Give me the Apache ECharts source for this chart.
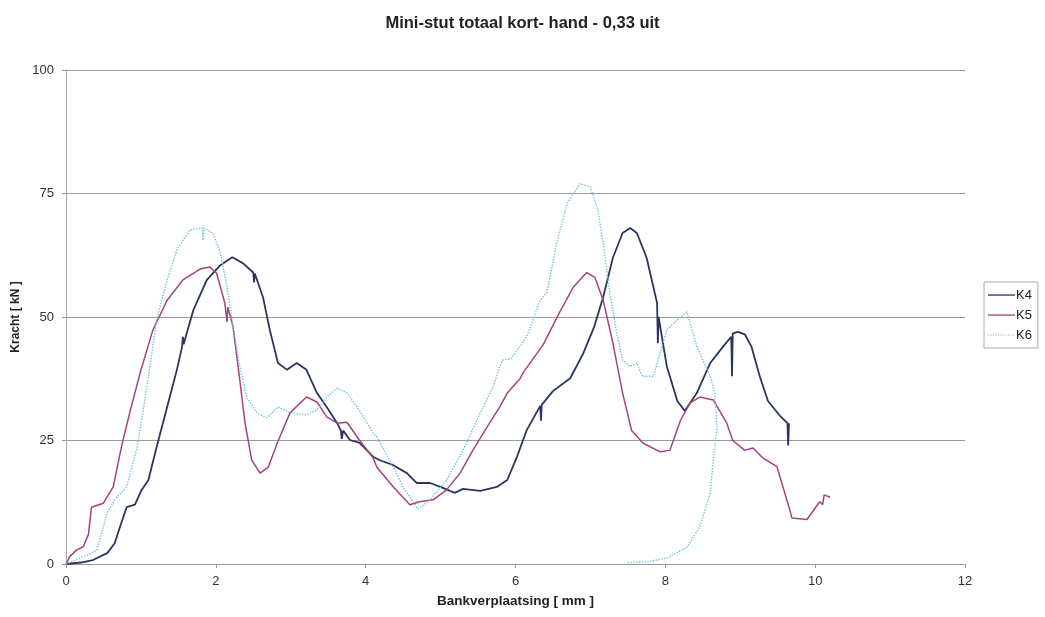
<!DOCTYPE html>
<html><head><meta charset="utf-8">
<script src="https://cdn.jsdelivr.net/npm/echarts@6/dist/echarts.min.js"></script>
<style>html,body{margin:0;padding:0;background:#fff}#c{width:1045px;height:617px}</style>
</head><body><div id="c"></div>
<script>
const chartTitle = 'Mini-stut totaal kort- hand - 0,33 uit';
const xAxisTitle = 'Bankverplaatsing [ mm ]';
const yAxisTitle = 'Kracht [ kN ]';
const seriesNames = ['K4', 'K5', 'K6'];

const k4Points = [[0,0],[0.2,0.3],[0.36,0.8],[0.55,2.2],[0.65,4.2],[0.72,7.5],[0.81,11.5],[0.92,12],[1.01,15],[1.1,17],[1.21,23.7],[1.35,31.8],[1.48,39.3],[1.55,44],[1.56,46],[1.57,44.5],[1.7,51.4],[1.88,57.5],[2.06,60.5],[2.22,62.1],[2.36,60.9],[2.5,59],[2.51,57],[2.52,58.8],[2.63,54],[2.72,47.4],[2.83,40.7],[2.95,39.3],[3.08,40.7],[3.21,39.3],[3.35,34.6],[3.48,31.8],[3.62,28.5],[3.67,27],[3.68,25.3],[3.7,27],[3.79,25.1],[3.92,24.5],[4.1,21.7],[4.19,21],[4.37,20],[4.55,18.4],[4.68,16.4],[4.86,16.4],[5.03,15.4],[5.19,14.4],[5.3,15.2],[5.53,14.8],[5.75,15.6],[5.89,17],[6.02,21.7],[6.15,27.1],[6.33,32],[6.34,29],[6.35,32.2],[6.5,35],[6.73,37.6],[6.9,42.5],[7.05,48],[7.17,54],[7.3,62],[7.43,67],[7.53,68],[7.62,67],[7.75,62],[7.89,52.8],[7.9,44.7],[7.91,50],[8.02,40],[8.16,33],[8.26,31],[8.42,34.6],[8.6,40.7],[8.77,44],[8.88,46],[8.89,38],[8.9,46.7],[8.97,47],[9.06,46.5],[9.15,44],[9.26,38],[9.37,33],[9.53,30],[9.63,28.5],[9.64,24],[9.65,28.5]];

const k5Points = [[0,0],[0.05,1.5],[0.14,2.8],[0.23,3.5],[0.3,6],[0.34,11.5],[0.5,12.3],[0.63,15.6],[0.74,23.7],[0.85,30.6],[0.99,38.7],[1.16,47.4],[1.35,53.4],[1.56,57.5],[1.79,59.7],[1.92,60.1],[2.01,58.9],[2.12,52.8],[2.15,49],[2.16,52],[2.23,48],[2.32,37.2],[2.39,28.5],[2.48,21],[2.59,18.4],[2.7,19.6],[2.82,24.5],[2.99,30.6],[3.21,33.8],[3.35,32.8],[3.48,29.8],[3.62,28.5],[3.75,28.7],[3.92,25],[4.1,21.5],[4.15,19.6],[4.37,15.6],[4.59,12],[4.72,12.6],[4.9,13],[5.08,15],[5.26,18.4],[5.43,23],[5.62,27.7],[5.79,31.8],[5.89,34.6],[6.06,37.5],[6.1,38.7],[6.37,44.4],[6.59,51],[6.77,56],[6.95,59],[7.06,58],[7.17,53.4],[7.3,44.7],[7.43,34.6],[7.55,27],[7.7,24.5],[7.93,22.7],[8.06,23],[8.2,29],[8.33,32.6],[8.46,33.8],[8.64,33.2],[8.82,28.5],[8.9,25],[9.06,23],[9.17,23.5],[9.3,21.5],[9.49,19.7],[9.57,15.6],[9.66,11],[9.69,9.3],[9.89,9],[10.06,12.6],[10.1,12],[10.12,14],[10.2,13.5]];

const k6Points = [[0,0],[0.28,1.8],[0.41,2.8],[0.55,10.3],[0.65,13],[0.81,15.6],[0.95,23.7],[1.08,35.8],[1.21,49.4],[1.35,57.5],[1.48,63.6],[1.65,67.6],[1.82,68],[1.83,65.5],[1.84,68],[1.96,67],[2.06,63],[2.15,56],[2.23,48],[2.32,40],[2.41,33.8],[2.55,30.6],[2.68,29.6],[2.83,31.8],[2.99,30.6],[3.21,30.2],[3.35,31.2],[3.48,33.8],[3.62,35.6],[3.75,34.6],[3.92,31],[4.1,26.5],[4.15,25.7],[4.37,19.6],[4.5,15.6],[4.7,11.1],[4.86,13],[5.08,17],[5.3,23],[5.53,30.6],[5.7,35.8],[5.79,40],[5.83,41.3],[5.93,41.5],[6.06,44],[6.15,46],[6.33,53.4],[6.42,55],[6.55,65],[6.69,73],[6.86,77],[7.0,76.3],[7.1,71.6],[7.17,65],[7.26,54.8],[7.35,46.8],[7.43,41.3],[7.53,40],[7.62,40.7],[7.69,38],[7.84,38],[7.93,42.7],[8.02,47.4],[8.16,49.4],[8.29,51],[8.42,44],[8.6,38],[8.66,34.6],[8.69,27.7],[8.64,21],[8.6,14.4],[8.46,7.5],[8.29,3.4],[8.02,1.2],[7.75,0.4],[7.49,0.3]];

const xTicks = {min: 0, max: 12, interval: 2};
const yTicks = {min: 0, max: 100, interval: 25};

const colors = ['#2b3463', '#a4437f', '#6fc2d6'];
const font = '"Liberation Sans", Arial, sans-serif';

// legend icons: thin horizontal line (solid) and dotted line, in a 27x14 box
const IW = 27, IH = 14;
const boxPts = 'M0,0L0,0M' + IW + ',' + IH + 'L' + IW + ',' + IH;
const solidIcon = 'path://' + boxPts + 'M0,6.4h' + IW + 'v1.3h-' + IW + 'z';
let dots = '';
for (let i = 0; i < IW; i += 2.5) dots += 'M' + i + ',6.5h1.2v1h-1.2z';
const dottedIcon = 'path://' + boxPts + dots;

const chart = echarts.init(document.getElementById('c'), null, {renderer: 'canvas'});
chart.setOption({
  animation: false,
  backgroundColor: '#ffffff',
  title: {
    text: chartTitle, left: 'center', top: 10,
    textStyle: {fontFamily: font, fontSize: 16.5, fontWeight: 'bold', color: '#222'}
  },
  grid: {left: 66, right: 80, top: 70, bottom: 53, containLabel: false},
  legend: {
    orient: 'vertical', left: 984, top: 282,
    data: [
      {name: seriesNames[0], icon: solidIcon},
      {name: seriesNames[1], icon: solidIcon},
      {name: seriesNames[2], icon: dottedIcon}
    ],
    itemWidth: IW, itemHeight: IH, itemGap: 6,
    padding: [6, 6, 6, 4],
    borderColor: '#aaa', borderWidth: 1,
    itemStyle: {borderWidth: 0},
    textStyle: {fontFamily: font, fontSize: 13, lineHeight: 14, color: '#222', padding: [0, 0, 0, -4]}
  },
  xAxis: {
    type: 'value', min: xTicks.min, max: xTicks.max, interval: xTicks.interval,
    name: xAxisTitle, nameLocation: 'middle', nameGap: 30,
    nameTextStyle: {fontFamily: font, fontSize: 13.5, fontWeight: 'bold', color: '#222'},
    axisLine: {show: true, lineStyle: {color: '#999', width: 1}},
    axisTick: {show: true, inside: false, length: 4, lineStyle: {color: '#999'}},
    axisLabel: {fontFamily: font, fontSize: 13, color: '#333', margin: 11},
    splitLine: {show: false}
  },
  yAxis: {
    type: 'value', min: yTicks.min, max: yTicks.max, interval: yTicks.interval,
    name: yAxisTitle, nameLocation: 'middle', nameGap: 38, nameRotate: 90,
    nameTextStyle: {fontFamily: font, fontSize: 12, fontWeight: 'bold', color: '#222'},
    axisLine: {show: true, lineStyle: {color: '#aaa', width: 1}},
    axisTick: {show: true, inside: false, length: 4, lineStyle: {color: '#999'}},
    axisLabel: {fontFamily: font, fontSize: 13, color: '#333', margin: 12},
    splitLine: {show: true, lineStyle: {color: '#999', width: 1}}
  },
  series: [
    {name: seriesNames[0], type: 'line', data: k4Points, symbol: 'none', smooth: false,
     lineStyle: {color: colors[0], width: 1.8}, itemStyle: {color: colors[0]}},
    {name: seriesNames[1], type: 'line', data: k5Points, symbol: 'none', smooth: false,
     lineStyle: {color: colors[1], width: 1.5}, itemStyle: {color: colors[1]}},
    {name: seriesNames[2], type: 'line', data: k6Points, symbol: 'none', smooth: false,
     lineStyle: {color: colors[2], width: 1.4, type: 'dotted'}, itemStyle: {color: colors[2]}}
  ]
});
</script></body></html>
